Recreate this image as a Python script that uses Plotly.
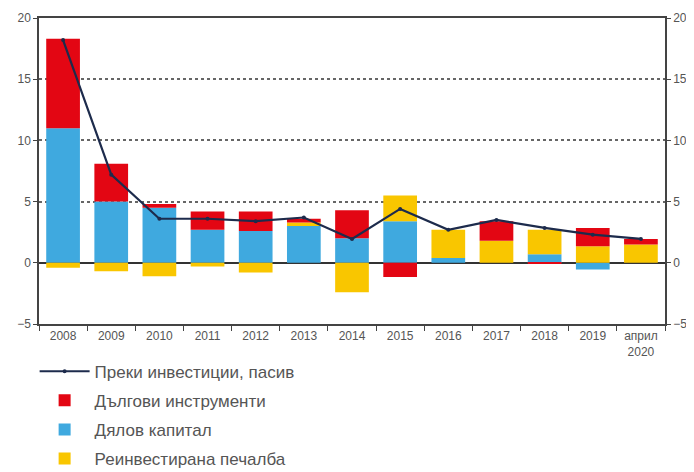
import plotly.graph_objects as go

categories = ["2008", "2009", "2010", "2011", "2012", "2013", "2014", "2015",
              "2016", "2017", "2018", "2019", "април<br>2020"]
equity = [11.0, 5.0, 4.5, 2.7, 2.6, 3.0, 2.0, 3.4, 0.4, 0.0, 0.7, -0.55, 0.0]
reinvested = [-0.4, -0.7, -1.1, -0.3, -0.8, 0.3, -2.4, 2.1, 2.3, 1.8, 2.0, 1.35, 1.5]
debt = [7.3, 3.1, 0.3, 1.5, 1.6, 0.3, 2.3, -1.15, 0.0, 1.6, -0.1, 1.5, 0.45]
fdi_total = [18.2, 7.2, 3.6, 3.6, 3.4, 3.7, 1.95, 4.4, 2.7, 3.5, 2.85, 2.3, 1.95]

y_ticks = [-5, 0, 5, 10, 15, 20]

FONT = "Liberation Sans, Arial, sans-serif"
RED = "#e30613"
BLUE = "#3fa9df"
YELLOW = "#f9c600"
NAVY = "#1d2b4c"

fig = go.Figure()
fig.add_trace(go.Bar(x=categories, y=equity, name="Дялов капитал",
                     marker=dict(color=BLUE, line=dict(width=0)), legendrank=3))
fig.add_trace(go.Bar(x=categories, y=reinvested, name="Реинвестирана печалба",
                     marker=dict(color=YELLOW, line=dict(width=0)), legendrank=4))
fig.add_trace(go.Bar(x=categories, y=debt, name="Дългови инструменти",
                     marker=dict(color=RED, line=dict(width=0)), legendrank=2))
fig.add_trace(go.Scatter(x=categories, y=fdi_total, name="Преки инвестиции, пасив",
                         mode="lines+markers", yaxis="y2",
                         line=dict(color=NAVY, width=2.2),
                         marker=dict(color=NAVY, size=4), legendrank=1))

# the page body adds an 8px margin, so the figure is sized to fit inside the window
fig.update_layout(
    width=686, height=464,
    margin=dict(l=31, r=29, t=10, b=148, autoexpand=False),
    paper_bgcolor="white", plot_bgcolor="white",
    barmode="relative", bargap=0.3,
    font=dict(family=FONT, color="#555555", size=13),
    showlegend=True,
    legend=dict(orientation="v", x=-0.007, y=-0.097, xanchor="left", yanchor="top",
                font=dict(size=17, color="#555555"), itemwidth=50,
                traceorder="grouped", tracegroupgap=4,
                bgcolor="rgba(0,0,0,0)"),
    xaxis=dict(type="category", range=[-0.5, len(categories) - 0.5],
               showline=True, linecolor="#444", linewidth=1.5,
               mirror=True, ticks="outside", tickson="boundaries", ticklen=5,
               tickcolor="#444", showgrid=False,
               tickfont=dict(size=12, color="#555")),
    yaxis=dict(range=[-5, 20], tickvals=y_ticks, showline=True, linecolor="#444",
               linewidth=1.5, ticks="outside", ticklen=4, tickcolor="#444",
               showgrid=True, gridcolor="#666", griddash="dot", gridwidth=1.5,
               zeroline=True, zerolinecolor="#333", zerolinewidth=1.5,
               tickfont=dict(size=12, color="#555")),
    yaxis2=dict(range=[-5, 20], tickvals=y_ticks, overlaying="y", side="right",
                showline=True, linecolor="#444", linewidth=1.5, ticks="outside",
                ticklen=4, tickcolor="#444", showgrid=False, zeroline=False,
                tickfont=dict(size=12, color="#555")),
)

for i, tr in enumerate(fig.data):
    tr.legendgroup = f"g{i}"

fig.write_html("out.html")
